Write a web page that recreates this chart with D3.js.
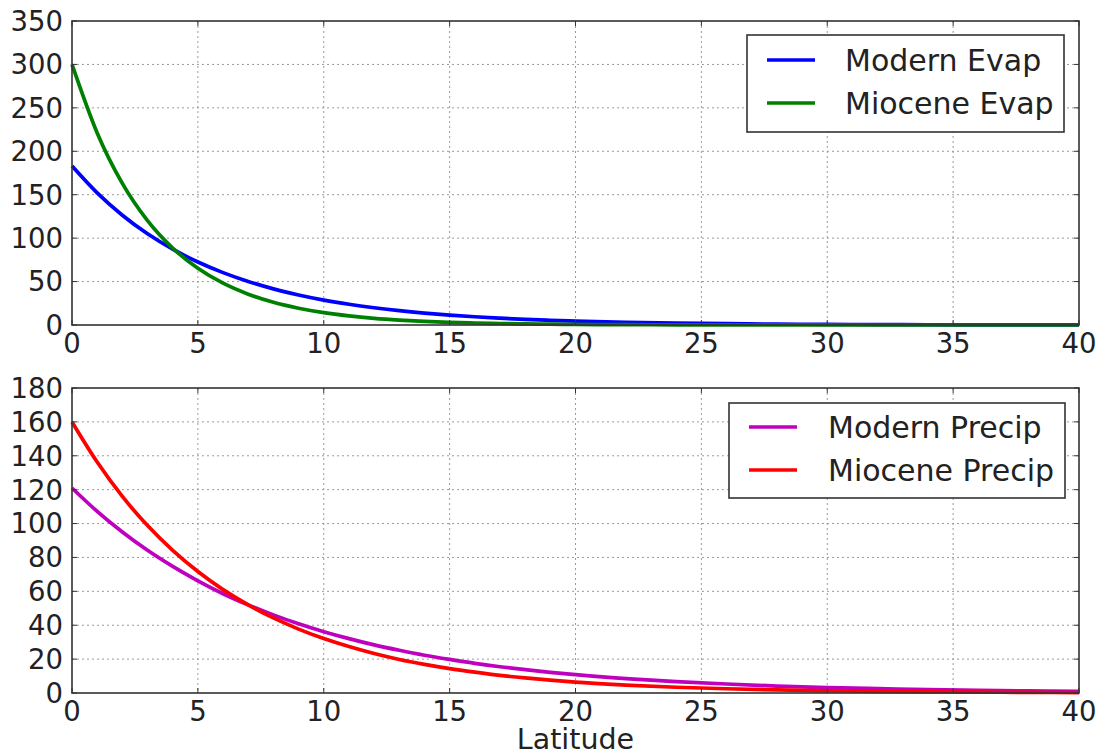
<!DOCTYPE html>
<html>
<head>
<meta charset="utf-8">
<script src="https://cdn.jsdelivr.net/npm/d3@7"></script>
<style>
  html, body { margin: 0; padding: 0; background: #fff; }
  svg { display: block; font-family: "DejaVu Sans", sans-serif; }
</style>
</head>
<body>
<svg id="chart" width="1101" height="755"></svg>
<script>
// Latitude samples shared by every series
const latitude = [0,1,2,3,4,5,6,7,8,9,10,11,12,13,14,15,16,17,18,19,20,
                  22,24,26,28,30,32,34,36,38,40];

// Evaporation
const modernEvap = [183,152.1,126.4,105.0,87.3,72.5,60.3,50.1,41.6,34.6,28.7,23.9,19.9,16.5,13.7,11.4,9.5,7.9,6.5,5.4,4.5,
                    3.1,2.1,1.5,1.0,0.7,0.5,0.3,0.2,0.16,0.11];
const mioceneEvap = [300,221.1,163.0,120.1,88.5,65.3,48.1,35.5,26.1,19.3,14.2,10.5,7.7,5.7,4.2,3.1,2.3,1.7,1.2,0.9,0.7,
                     0.37,0.2,0.11,0.06,0.03,0.02,0.01,0,0,0];

// Precipitation
const modernPrecip = [121,107.2,95.0,84.2,74.7,66.2,58.6,52.0,46.1,40.8,36.2,32.1,28.4,25.2,22.3,19.8,17.5,15.5,13.8,12.2,10.8,
                      8.5,6.7,5.3,4.1,3.2,2.6,2.0,1.6,1.24,0.97];
const miocenePrecip = [160,136.3,116.0,98.8,84.2,71.7,61.0,52.0,44.3,37.7,32.1,27.4,23.3,19.8,16.9,14.4,12.3,10.4,8.9,7.6,6.4,
                       4.7,3.4,2.5,1.8,1.3,0.9,0.7,0.5,0.36,0.26];

// Tick values
const xTicks = [0,5,10,15,20,25,30,35,40];
const evapTicks = [0,50,100,150,200,250,300,350];
const precipTicks = [0,20,40,60,80,100,120,140,160,180];

const svg = d3.select("#chart");
const left = 72, right = 1079;

const x = d3.scaleLinear().domain([0, 40]).range([left, right]);

function drawPanel(opts) {
  const { top, bottom, yMax, yTicks, series, legend } = opts;
  const y = d3.scaleLinear().domain([0, yMax]).range([bottom, top]);
  const g = svg.append("g");

  // dotted grid
  const grid = g.append("g").attr("stroke", "#9a9a9a").attr("stroke-width", 1)
    .attr("stroke-dasharray", "2,3");
  grid.selectAll("line.gx").data(xTicks.slice(1, -1)).join("line")
    .attr("x1", d => x(d)).attr("x2", d => x(d))
    .attr("y1", top).attr("y2", bottom);
  grid.selectAll("line.gy").data(yTicks.slice(1, -1)).join("line")
    .attr("x1", left).attr("x2", right)
    .attr("y1", d => y(d)).attr("y2", d => y(d));

  // curves
  const line = d3.line()
    .x((d, i) => x(latitude[i]))
    .y(d => y(d))
    .curve(d3.curveMonotoneX);
  series.forEach(s => {
    g.append("path").datum(s.values)
      .attr("fill", "none").attr("stroke", s.color)
      .attr("stroke-width", 3.7).attr("stroke-linejoin", "round")
      .attr("d", line);
  });

  // inward ticks on all four sides
  const tickLen = 5;
  const ticks = g.append("g").attr("stroke", "#333").attr("stroke-width", 1);
  xTicks.forEach(t => {
    ticks.append("line").attr("x1", x(t)).attr("x2", x(t)).attr("y1", bottom).attr("y2", bottom - tickLen);
    ticks.append("line").attr("x1", x(t)).attr("x2", x(t)).attr("y1", top).attr("y2", top + tickLen);
  });
  yTicks.forEach(t => {
    ticks.append("line").attr("x1", left).attr("x2", left + tickLen).attr("y1", y(t)).attr("y2", y(t));
    ticks.append("line").attr("x1", right).attr("x2", right - tickLen).attr("y1", y(t)).attr("y2", y(t));
  });

  // frame
  g.append("rect").attr("x", left).attr("y", top)
    .attr("width", right - left).attr("height", bottom - top)
    .attr("fill", "none").attr("stroke", "#333").attr("stroke-width", 1.6);

  // tick labels
  g.append("g").selectAll("text").data(xTicks).join("text")
    .attr("x", d => x(d)).attr("y", bottom + 28)
    .attr("text-anchor", "middle").attr("font-size", 27.5).attr("fill", "#222")
    .text(d => d);
  g.append("g").selectAll("text").data(yTicks).join("text")
    .attr("x", left - 9).attr("y", d => y(d)).attr("dy", "0.36em")
    .attr("text-anchor", "end").attr("font-size", 27.5).attr("fill", "#222")
    .text(d => d);

  // legend
  const lg = g.append("g");
  lg.append("rect").attr("x", legend.x).attr("y", legend.y)
    .attr("width", legend.w).attr("height", legend.h)
    .attr("fill", "#fff").attr("stroke", "#333").attr("stroke-width", 1.6);
  series.forEach((s, i) => {
    const ly = legend.y + legend.rowStart + i * legend.rowGap;
    lg.append("line")
      .attr("x1", legend.x + legend.lineX).attr("x2", legend.x + legend.lineX + 48)
      .attr("y1", ly).attr("y2", ly)
      .attr("stroke", s.color).attr("stroke-width", 3.7);
    lg.append("text")
      .attr("x", legend.x + legend.textX).attr("y", ly).attr("dy", "0.36em")
      .attr("font-size", 30).attr("fill", "#222")
      .text(s.name);
  });
}

drawPanel({
  top: 21, bottom: 325, yMax: 350, yTicks: evapTicks,
  series: [
    { name: "Modern Evap", values: modernEvap, color: "#0000ff" },
    { name: "Miocene Evap", values: mioceneEvap, color: "#008000" }
  ],
  legend: { x: 747, y: 35, w: 317, h: 97, rowStart: 25, rowGap: 43, lineX: 20, textX: 98 }
});

drawPanel({
  top: 388, bottom: 693, yMax: 180, yTicks: precipTicks,
  series: [
    { name: "Modern Precip", values: modernPrecip, color: "#bf00bf" },
    { name: "Miocene Precip", values: miocenePrecip, color: "#ff0000" }
  ],
  legend: { x: 729, y: 403, w: 336, h: 95, rowStart: 24, rowGap: 43, lineX: 20, textX: 99 }
});

// shared x-axis title
svg.append("text")
  .attr("x", (left + right) / 2).attr("y", 749)
  .attr("text-anchor", "middle").attr("font-size", 28.5).attr("fill", "#222")
  .text("Latitude");
</script>
</body>
</html>
